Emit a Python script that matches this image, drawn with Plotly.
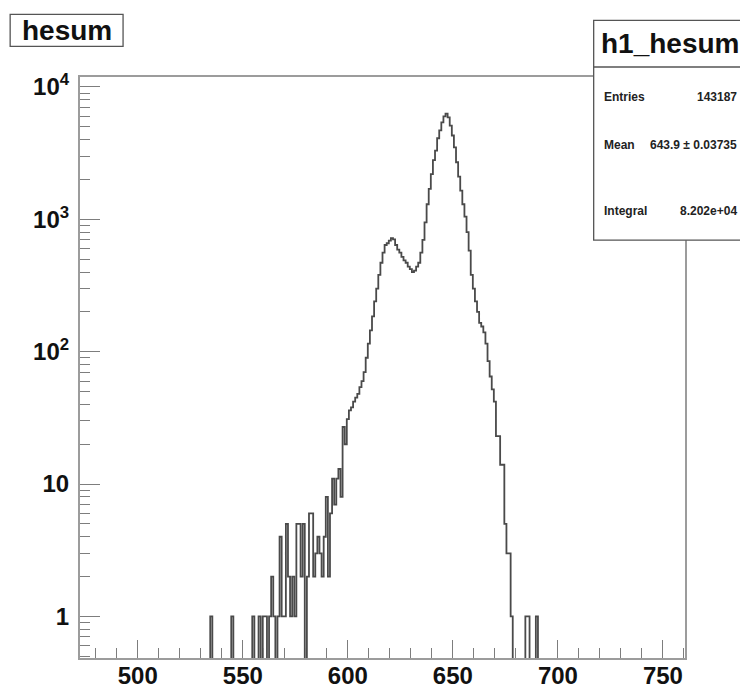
import numpy as np
import plotly.graph_objects as go

# Histogram h1_hesum: unit-width bins centred on integers
x_axis_range = [472.5, 760.5]
first_center = 530
counts = [
    0, 0, 0, 0, 0, 1, 0, 0, 0, 0,            # 530-539
    0, 0, 0, 0, 0, 1, 0, 0, 0, 0,            # 540-549
    0, 0, 0, 0, 0, 1, 0, 0, 1, 0,            # 550-559
    1, 1, 0, 1, 2, 1, 0, 1, 4, 1,            # 560-569
    1, 5, 2, 1, 2, 1, 5, 5, 2, 5,            # 570-579
    0, 2, 6, 6, 2, 3, 4, 3, 2, 4,            # 580-589
    8, 2, 6, 11, 7, 11, 13, 8, 27, 20,       # 590-599
    31, 36, 38, 42, 45, 48, 54, 60, 70, 90,  # 600-609
    115, 145, 185, 240, 300, 380, 470, 560, 640, 660,      # 610-619
    690, 720, 705, 640, 590, 560, 520, 490, 470, 440,      # 620-629
    420, 400, 410, 440, 470, 560, 700, 950, 1300, 1700,    # 630-639
    2200, 2800, 3300, 4100, 4700, 5400, 6000, 6300, 5900, 5100,  # 640-649
    4300, 3500, 2700, 2100, 1650, 1300, 1050, 800, 580, 380,     # 650-659
    300, 240, 200, 165, 155, 140, 115, 85, 65, 52,         # 660-669
    42, 23, 23, 14, 14, 5, 3, 3, 1, 0,                     # 670-679
    0, 0, 0, 0, 0, 1, 1, 0, 0, 0,                          # 680-689
    1, 0, 0, 0, 0, 0,                                      # 690-695
]

y_decades = [1, 10, 100, 1000, 10000]
y_decade_labels = ["1", "10", "10<sup>2</sup>", "10<sup>3</sup>", "10<sup>4</sup>"]
x_tick_values = [500, 550, 600, 650, 700, 750]

stats_title = "h1_hesum"
stats_rows = [("Entries", "143187"),
              ("Mean", "643.9 \u00b1 0.03735"),
              ("Integral", "8.202e+04")]
hist_title = "hesum"

# ---- page geometry (pixels) ----
W, H = 740, 691
ML, MR, MT, MB = 79.9, 54.6, 76.7, 32.7
PW, PH = W - ML - MR, H - MT - MB


def fx(px):
    return (px - ML) / PW


def fy(py):
    return 1 - (py - MT) / PH


# step outline over the full axis range; empty bins fall below the frame
n_total = int(x_axis_range[1] - x_axis_range[0])
centers = np.arange(x_axis_range[0] + 0.5, x_axis_range[1], 1.0)
full = np.zeros(n_total)
start = int(first_center - centers[0])
full[start:start + len(counts)] = counts
drawn = np.where(full > 0, full, 1e-2)
edges = np.append(centers - 0.5, centers[-1] + 0.5)
step_y = np.append(drawn, drawn[-1])

fig = go.Figure()
fig.add_trace(go.Scatter(
    x=edges, y=step_y, mode="lines", line_shape="hv",
    line=dict(color="#4a4a4a", width=1.8), hoverinfo="skip", showlegend=False,
))

minor_y = [m * 10.0 ** d for d in range(-1, 5) for m in range(2, 10)]
font_family = "Liberation Sans, Arial, sans-serif"

fig.update_layout(
    width=W, height=H,
    margin=dict(l=ML, r=MR, t=MT, b=MB, pad=0, autoexpand=False),
    paper_bgcolor="white", plot_bgcolor="white",
    showlegend=False,
    xaxis=dict(
        range=x_axis_range, showgrid=False, zeroline=False, automargin=False,
        showline=True, linecolor="#9c9c9c", linewidth=2.2, mirror=True,
        ticks="inside", ticklen=18, tickwidth=1.3, tickcolor="#7d7d7d",
        tickvals=x_tick_values, ticklabelstandoff=-5,
        tickfont=dict(family=font_family, size=24, color="#111", weight="bold"),
        minor=dict(dtick=10, tick0=500, ticks="inside", ticklen=10,
                   tickwidth=1.3, tickcolor="#7d7d7d", showgrid=False),
    ),
    yaxis=dict(
        type="log", range=[-0.314, 4.0755], showgrid=False, zeroline=False,
        automargin=False,
        showline=True, linecolor="#9c9c9c", linewidth=2.2, mirror=True,
        ticks="inside", ticklen=20, tickwidth=1.3, tickcolor="#7d7d7d",
        tickvals=y_decades, ticktext=y_decade_labels, ticklabelstandoff=4,
        tickfont=dict(family=font_family, size=24, color="#111", weight="bold"),
        minor=dict(tickmode="array", tickvals=minor_y, ticks="inside",
                   ticklen=10, tickwidth=1.3, tickcolor="#7d7d7d", showgrid=False),
    ),
)

# title box
fig.add_shape(type="rect", xref="paper", yref="paper",
              x0=fx(10), x1=fx(123), y0=fy(14), y1=fy(46),
              line=dict(color="#555", width=1.3), fillcolor="white")
fig.add_annotation(xref="paper", yref="paper", x=fx(66.5), y=fy(30),
                   text=hist_title, showarrow=False, xanchor="center", yanchor="middle",
                   font=dict(family=font_family, size=28, color="#111", weight="bold"))

# statistics box
SB_L, SB_T, SB_B, SB_DIV = 594, 20, 240, 66.7
fig.add_shape(type="rect", xref="paper", yref="paper",
              x0=fx(SB_L), x1=fx(745), y0=fy(SB_B), y1=fy(SB_T),
              line=dict(color="#555", width=1.3), fillcolor="white")
fig.add_shape(type="line", xref="paper", yref="paper",
              x0=fx(SB_L), x1=fx(745), y0=fy(SB_DIV), y1=fy(SB_DIV),
              line=dict(color="#555", width=1.3))
fig.add_annotation(xref="paper", yref="paper", x=fx(599), y=fy(43),
                   text=stats_title, showarrow=False, xanchor="left", yanchor="middle",
                   font=dict(family=font_family, size=28, color="#111", weight="bold"))
row_y = [96.7, 145, 210.7]
for (name, val), ry in zip(stats_rows, row_y):
    fig.add_annotation(xref="paper", yref="paper", x=fx(602.5), y=fy(ry),
                       text=name, showarrow=False, xanchor="left", yanchor="middle",
                       font=dict(family=font_family, size=12, color="#222", weight="bold"))
    fig.add_annotation(xref="paper", yref="paper", x=fx(739), y=fy(ry),
                       text=val, showarrow=False, xanchor="right", yanchor="middle",
                       font=dict(family=font_family, size=12, color="#222", weight="bold"))

fig.write_html("out.html")
